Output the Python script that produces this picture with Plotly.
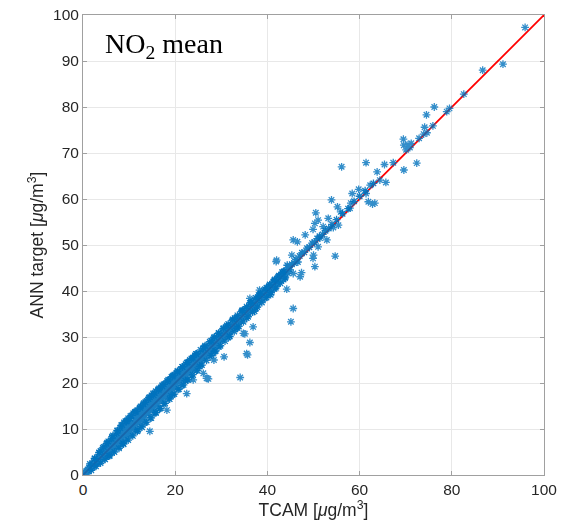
import plotly.graph_objects as go

# ---- data ----
# dense band, written row by row (TCAM, ANN target)
band_tcam = [
    0.1, 0.2, 0.35, 0.5, 0.6, 0.75, 0.9,
    1.0, 1.15, 1.3, 1.45, 1.6, 1.75, 1.9,
    2.05, 2.2, 2.35, 2.5, 2.65, 2.8, 2.95, 2.4,
    3.0, 3.15, 3.3, 3.45, 3.6, 3.75, 3.9, 3.5,
    4.05, 4.2, 4.35, 4.5, 4.65, 4.8, 4.95, 4.3, 4.7,
    5.0, 5.15, 5.3, 5.45, 5.6, 5.75, 5.9, 5.25, 5.7,
    6.05, 6.2, 6.35, 6.5, 6.65, 6.8, 6.95, 6.3, 6.6,
    7.0, 7.15, 7.3, 7.45, 7.6, 7.75, 7.9, 7.4, 7.8,
    8.05, 8.2, 8.35, 8.5, 8.65, 8.8, 8.95, 8.3, 8.6, 8.9,
    9.0, 9.15, 9.3, 9.45, 9.6, 9.75, 9.9, 9.2, 9.5, 9.8,
    10.05, 10.2, 10.35, 10.5, 10.65, 10.8, 10.95, 10.3, 10.6, 10.9,
    11.0, 11.15, 11.3, 11.45, 11.6, 11.75, 11.9, 11.2, 11.5, 11.8,
    12.05, 12.2, 12.35, 12.5, 12.65, 12.8, 12.95, 12.3, 12.6, 12.9,
    13.0, 13.15, 13.3, 13.45, 13.6, 13.75, 13.9, 13.2, 13.5, 13.8,
    14.05, 14.2, 14.35, 14.5, 14.65, 14.8, 14.95, 14.3, 14.6, 14.9,
    15.0, 15.15, 15.3, 15.45, 15.6, 15.75, 15.9, 15.2, 15.5, 15.8,
    16.05, 16.2, 16.35, 16.5, 16.65, 16.8, 16.95, 16.3, 16.6, 16.9,
    17.0, 17.15, 17.3, 17.45, 17.6, 17.75, 17.9, 17.2, 17.5, 17.8,
    18.05, 18.2, 18.35, 18.5, 18.65, 18.8, 18.95, 18.3, 18.6, 18.9,
    19.0, 19.15, 19.3, 19.45, 19.6, 19.75, 19.9, 19.2, 19.5, 19.8,
    20.05, 20.2, 20.35, 20.5, 20.65, 20.8, 20.95, 20.3, 20.6, 20.9,
    21.0, 21.15, 21.3, 21.45, 21.6, 21.75, 21.9, 21.2, 21.5, 21.8,
    22.05, 22.2, 22.35, 22.5, 22.65, 22.8, 22.95, 22.3, 22.6, 22.9,
    23.0, 23.15, 23.3, 23.45, 23.6, 23.75, 23.9, 23.2, 23.5, 23.8,
    24.05, 24.2, 24.35, 24.5, 24.65, 24.8, 24.95, 24.3, 24.6, 24.9,
    25.0, 25.15, 25.3, 25.45, 25.6, 25.75, 25.9, 25.5,
    26.05, 26.2, 26.35, 26.5, 26.65, 26.8, 26.95, 26.4,
    27.0, 27.15, 27.3, 27.45, 27.6, 27.75, 27.9, 27.5,
    28.05, 28.2, 28.35, 28.5, 28.65, 28.8, 28.95, 28.4,
    29.0, 29.15, 29.3, 29.45, 29.6, 29.75, 29.9, 29.5,
    30.05, 30.2, 30.35, 30.5, 30.65, 30.8, 30.95, 30.4,
    31.0, 31.15, 31.3, 31.45, 31.6, 31.75, 31.9, 31.5,
    32.05, 32.2, 32.35, 32.5, 32.65, 32.8, 32.95, 32.4,
    33.0, 33.15, 33.3, 33.45, 33.6, 33.75, 33.9, 33.5,
    34.05, 34.2, 34.35, 34.5, 34.65, 34.8, 34.95, 34.4,
    35.0, 35.15, 35.3, 35.45, 35.6, 35.75, 35.9, 35.5,
    36.05, 36.2, 36.35, 36.5, 36.65, 36.8, 36.95, 36.4,
    37.0, 37.15, 37.3, 37.45, 37.6, 37.75, 37.9, 37.5,
    38.05, 38.2, 38.35, 38.5, 38.65, 38.8, 38.95, 38.4,
    39.0, 39.15, 39.3, 39.45, 39.6, 39.75, 39.9, 39.5,
    40.05, 40.2, 40.35, 40.5, 40.65, 40.8, 40.95, 40.4,
    41.0, 41.15, 41.3, 41.45, 41.6, 41.75, 41.9, 41.5,
    42.05, 42.2, 42.35, 42.5, 42.65, 42.8, 42.95, 42.4,
    43.0, 43.15, 43.3, 43.45, 43.6, 43.75, 43.9, 43.5,
    44.1, 44.4, 44.7, 44.9, 44.3,
    45.3, 45.8, 46.2, 46.6, 47.0, 47.5, 48.0, 48.6, 49.1, 49.7,
    50.2, 50.8, 51.3, 52.0, 52.6, 53.3, 54.0, 55.0, 56.3, 57.5,
    58.8, 60.0, 61.2, 63.0,
]
band_ann = [
    0.1, 0.3, 0.2, 0.6, 0.4, 0.9, 0.7,
    1.2, 0.8, 1.6, 1.3, 1.9, 1.4, 2.3,
    1.7, 2.5, 2.9, 2.2, 3.1, 2.6, 3.4, 1.9,
    3.4, 2.6, 3.9, 3.1, 4.4, 3.5, 3.0, 4.8,
    4.5, 3.6, 5.0, 4.2, 5.4, 4.1, 5.8, 5.9, 3.5,
    5.4, 4.6, 6.1, 5.0, 6.6, 5.3, 6.2, 7.0, 4.4,
    6.3, 5.5, 7.2, 6.0, 7.5, 6.6, 7.9, 8.3, 5.2,
    7.6, 6.4, 8.1, 7.2, 8.6, 7.5, 8.9, 9.6, 6.1,
    8.4, 7.3, 9.2, 8.0, 9.7, 8.5, 9.1, 10.8, 6.9, 11.4,
    9.6, 8.4, 10.3, 9.0, 10.6, 9.4, 10.1, 11.7, 7.8, 12.3,
    10.5, 9.1, 11.2, 10.0, 11.6, 10.4, 11.0, 12.8, 8.7, 13.4,
    11.4, 10.2, 12.3, 11.1, 12.5, 11.6, 12.0, 13.6, 9.6, 14.1,
    12.6, 11.2, 13.1, 12.0, 13.5, 12.4, 13.0, 14.5, 10.6, 14.9,
    13.5, 12.1, 14.2, 13.0, 14.6, 13.4, 14.0, 15.6, 11.4, 16.1,
    14.4, 13.2, 15.1, 14.1, 15.7, 14.6, 15.2, 16.8, 12.4, 17.3,
    15.6, 14.2, 16.2, 15.0, 16.6, 15.4, 16.1, 17.7, 13.5, 18.2,
    16.5, 15.1, 17.3, 16.2, 17.5, 16.6, 17.1, 18.6, 14.4, 19.0,
    17.4, 16.3, 18.1, 17.0, 18.6, 17.5, 18.0, 19.5, 15.5, 19.8,
    18.5, 17.2, 19.2, 18.1, 19.6, 18.4, 19.1, 20.4, 16.6, 20.7,
    19.4, 18.3, 20.1, 19.0, 20.5, 19.6, 20.0, 21.3, 17.5, 21.8,
    20.5, 19.1, 21.2, 20.2, 21.4, 20.6, 21.0, 22.2, 18.6, 22.5,
    21.4, 20.3, 22.1, 21.0, 22.5, 21.5, 22.0, 23.0, 19.5, 23.4,
    22.5, 21.2, 23.2, 22.1, 23.4, 22.6, 23.1, 24.1, 20.7, 24.4,
    23.4, 22.3, 24.1, 23.0, 24.5, 23.5, 24.0, 25.0, 21.6, 25.3,
    24.5, 23.2, 25.1, 24.1, 25.4, 24.6, 25.0, 26.0, 22.7, 26.2,
    25.5, 24.4, 26.2, 25.0, 26.4, 25.6, 25.1, 23.9,
    26.4, 25.3, 27.1, 26.1, 27.5, 26.5, 26.2, 27.9,
    27.5, 26.4, 28.2, 27.0, 28.4, 27.6, 27.1, 25.9,
    28.4, 27.3, 29.1, 28.1, 29.5, 28.5, 28.2, 29.8,
    29.5, 28.4, 30.2, 29.0, 30.4, 29.6, 29.1, 27.9,
    30.4, 29.4, 31.1, 30.1, 31.5, 30.5, 30.2, 31.8,
    31.5, 30.4, 32.2, 31.0, 32.4, 31.6, 31.1, 29.9,
    32.4, 31.4, 33.1, 32.1, 33.4, 32.5, 32.2, 33.6,
    33.5, 32.5, 34.1, 33.0, 34.3, 33.6, 33.1, 32.0,
    34.4, 33.5, 35.0, 34.1, 35.4, 34.5, 34.2, 35.5,
    35.5, 34.5, 36.1, 35.0, 36.3, 35.6, 35.1, 34.1,
    36.4, 35.6, 37.0, 36.1, 37.3, 36.5, 36.2, 37.4,
    37.4, 36.6, 38.0, 37.1, 38.2, 37.5, 37.0, 36.3,
    38.4, 37.6, 39.0, 38.1, 39.2, 38.5, 38.2, 39.3,
    39.4, 38.7, 40.0, 39.1, 40.2, 39.5, 39.0, 38.5,
    40.4, 39.7, 41.0, 40.1, 41.2, 40.5, 40.2, 41.1,
    41.4, 40.7, 42.0, 41.1, 42.2, 41.5, 41.0, 40.5,
    42.4, 41.7, 43.0, 42.1, 43.2, 42.5, 42.2, 43.1,
    43.4, 42.7, 44.0, 43.1, 44.2, 43.5, 43.0, 42.5,
    44.5, 43.9, 45.2, 44.6, 45.6,
    45.8, 46.1, 46.9, 46.3, 47.6, 48.3, 48.4, 49.3, 49.5, 50.4,
    50.6, 51.4, 51.9, 52.3, 53.1, 53.6, 54.5, 55.5, 56.8, 57.9,
    59.5, 60.6, 61.8, 63.4,
]

# edges of the band: upper edge then lower edge
edge_tcam = [
    1.5, 2.5, 3.5, 4.5, 5.5, 6.5, 7.5, 8.5, 9.5, 10.5, 11.5, 12.5, 13.5, 14.5,
    15.5, 16.5, 17.5, 18.5, 19.5, 20.5, 21.5, 22.5, 23.5, 24.5, 25.5, 26.5,
    27.5, 28.5, 29.5, 30.5, 31.5, 32.5, 33.5, 34.5, 35.5, 36.5, 37.5, 38.5,
    39.5, 40.5, 41.5, 42.5, 43.5,
    1.8, 2.8, 3.8, 4.8, 5.8, 6.8, 7.8, 8.8, 9.8, 10.8, 11.8, 12.8, 13.8, 14.8,
    15.8, 16.8, 17.8, 18.8, 19.8, 20.8, 21.8, 22.8, 23.8, 24.8, 25.8, 26.8,
    27.8, 28.8, 29.8, 30.8, 31.8, 32.8, 33.8, 34.8, 35.8, 36.8, 37.8, 38.8,
    39.8, 40.8, 41.8, 42.8, 43.8,
]
edge_ann = [
    2.4, 3.6, 4.9, 6.1, 7.3, 8.6, 9.7, 10.9, 11.8, 12.9, 13.8, 14.9, 15.8, 16.9,
    17.8, 18.8, 19.7, 20.7, 21.6, 22.6, 23.5, 24.4, 25.3, 26.3, 27.2, 28.1,
    29.0, 30.0, 30.9, 31.9, 32.8, 33.8, 34.7, 35.7, 36.6, 37.6, 38.5, 39.5,
    40.4, 41.4, 42.3, 43.3, 44.2,
    1.0, 1.9, 2.6, 3.4, 4.2, 5.0, 5.8, 6.7, 7.6, 8.5, 9.5, 10.4, 11.5, 12.4,
    13.5, 14.5, 15.6, 16.5, 17.6, 18.7, 19.6, 20.7, 21.8, 22.8, 23.9, 24.9,
    26.0, 27.0, 28.1, 29.1, 30.2, 31.2, 32.3, 33.3, 34.4, 35.4, 36.5, 37.5,
    38.6, 39.6, 40.7, 41.7, 42.8,
]

# extra halo points just above / below the band (low and mid range)
halo_tcam = [
    2.6, 3.8, 5.1, 6.2, 7.3, 8.1, 9.4, 10.2, 11.3, 12.4, 13.1, 14.2,
    15.3, 16.4, 17.2, 18.3, 19.4, 20.5, 21.6, 22.7, 23.8, 24.6, 26.1, 27.8,
    29.4, 31.2, 32.9, 34.6, 36.3, 38.1, 39.8, 41.6, 43.2,
    5.6, 8.7, 11.9, 15.8, 19.1, 22.2, 25.3, 28.6, 31.8, 37.2, 40.7,
]
halo_ann = [
    3.6, 5.2, 6.8, 7.9, 9.1, 10.2, 11.6, 12.3, 13.7, 14.6, 15.4, 16.5,
    17.4, 18.5, 19.3, 20.4, 21.4, 22.4, 23.5, 24.5, 25.5, 26.3, 27.6, 29.2,
    30.8, 32.5, 34.1, 35.8, 37.4, 39.1, 40.7, 42.5, 44.1,
    4.1, 6.9, 9.8, 13.6, 17.2, 20.5, 23.6, 26.9, 30.1, 35.6, 39.2,
]

# scattered points away from the band
outlier_tcam = [
    95.9, 86.7, 91.1, 82.6, 79.5, 78.9, 76.2, 74.5, 74.1, 75.9, 74.6, 73.9,
    72.9, 69.5, 69.6, 70.5, 71.2, 70.1, 70.9,
    56.1, 61.4, 65.4, 72.4, 67.3, 69.6, 63.8, 64.4, 65.7, 62.3, 59.8, 58.4,
    61.4, 63.3, 61.9, 58.1, 53.9, 55.2, 57.9, 55.9, 50.5, 53.2, 51.0, 55.4,
    54.3, 52.1, 49.9, 50.3, 45.6, 46.5, 51.4, 51.0, 52.9, 54.7, 49.9, 45.3,
    42.0, 50.3, 62.8,
    41.9, 45.6, 45.1, 44.2, 47.1, 45.6, 47.4, 48.2, 50.0, 36.2, 38.3, 36.9,
    36.2, 35.7, 34.8, 34.1, 30.6, 28.3, 28.4, 26.8, 26.1, 33.3, 35.5, 27.2,
    35.1, 22.5, 14.5, 18.2, 23.9, 27.0,
]
outlier_ann = [
    97.3, 88.0, 89.3, 82.8, 79.7, 79.0, 80.0, 78.3, 75.6, 75.9, 74.4, 74.1,
    73.2, 73.0, 71.7, 71.8, 72.1, 70.7, 71.2,
    67.0, 67.9, 67.5, 67.8, 67.9, 66.3, 65.9, 64.1, 63.6, 63.0, 62.1, 61.2,
    61.2, 59.1, 59.4, 59.1, 59.8, 58.3, 58.0, 57.2, 57.0, 55.8, 55.4, 54.3,
    53.8, 54.0, 53.4, 54.7, 51.1, 50.7, 51.5, 49.6, 51.1, 47.6, 47.1, 47.8,
    46.7, 45.3, 58.9,
    46.4, 36.2, 33.3, 40.4, 43.1, 43.8, 44.0, 52.2, 47.8, 38.4, 40.2, 32.2,
    28.8, 26.1, 30.8, 21.2, 25.7, 26.4, 25.0, 21.0, 22.1, 31.9, 26.4, 20.9,
    30.7, 17.7, 9.5, 14.1, 20.7, 21.0,
]

line_x = [0, 100]
line_y = [0, 100]
ticks = [0, 20, 40, 60, 80, 100]
yticks = [0, 10, 20, 30, 40, 50, 60, 70, 80, 90, 100]

BLUE = "#0072BD"
marker = dict(symbol="asterisk-open", size=6.5, color=BLUE,
              line=dict(color=BLUE, width=1.3))
FONT = "Liberation Sans, Arial, sans-serif"

fig = go.Figure()
fig.add_trace(go.Scatter(x=line_x, y=line_y, mode="lines",
                         line=dict(color="#FF0000", width=1.8),
                         hoverinfo="skip"))
for xs, ys, op in [(band_tcam, band_ann, 0.9), (edge_tcam, edge_ann, 0.9),
                   (halo_tcam, halo_ann, 0.9),
                   (outlier_tcam, outlier_ann, 0.8)]:
    fig.add_trace(go.Scatter(x=xs, y=ys, mode="markers", marker=marker,
                             opacity=op))

axis_common = dict(
    range=[0, 100], showgrid=True, gridcolor="#E8E8E8", gridwidth=1,
    zeroline=False, showline=True, linecolor="#A0A0A0", linewidth=1,
    mirror="allticks", ticks="inside", ticklen=4, tickcolor="#A0A0A0",
    automargin=False,
    tickfont=dict(family=FONT, size=15.5, color="#262626"),
)

fig.update_layout(
    width=568, height=524,
    margin=dict(l=83, r=24, t=15, b=49),
    paper_bgcolor="white", plot_bgcolor="white",
    showlegend=False,
    xaxis=dict(axis_common, tickvals=ticks,
               title=dict(text="TCAM [<i>μ</i>g/m<sup>3</sup>]",
                          font=dict(family=FONT, size=17.5, color="#262626"),
                          standoff=0)),
    yaxis=dict(axis_common, tickvals=yticks,
               title=dict(text="ANN target [<i>μ</i>g/m<sup>3</sup>]",
                          font=dict(family=FONT, size=17.5, color="#262626"),
                          standoff=4)),
    annotations=[dict(
        text="NO<sub>2</sub> mean", xref="paper", yref="paper",
        x=0.043, y=0.976, xanchor="left", yanchor="top", showarrow=False,
        font=dict(family="Liberation Serif, Times New Roman, serif", size=28,
                  color="black"),
    )],
)

# remove the browser's default 8 px page margin so the figure sits at (0, 0)
fig.write_html("out.html",
               config={"displayModeBar": False},
               post_script="document.body.style.margin='0';")
